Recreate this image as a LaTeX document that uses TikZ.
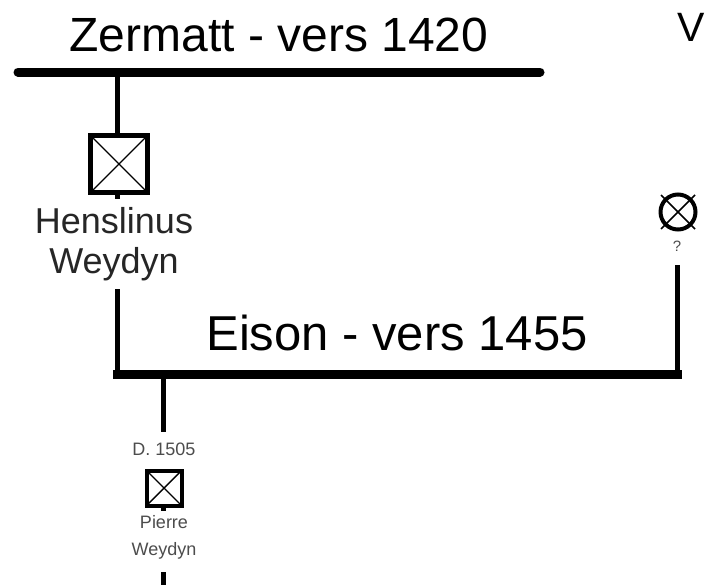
\documentclass[tikz,border=0pt]{standalone}
\usepackage{fontspec}
\setmainfont{Liberation Sans}
\usetikzlibrary{positioning}

\begin{document}
\begin{tikzpicture}[
  x=1pt, y=-1pt,
  bar/.style    = {line width=9pt, line cap=round},
  link/.style   = {line width=5pt},
  place/.style  = {inner sep=0pt, font=\fontsize{48}{50}\selectfont},
  person/.style = {inner sep=0pt, align=center, font=\fontsize{36}{40}\selectfont, text=black!85},
  small/.style  = {inner sep=0pt, align=center, font=\fontsize{18}{27}\selectfont, text=black!70},
  man/.style    = {draw, rectangle, inner sep=0pt, minimum size=#1,
                   path picture={\draw[line width=1.4pt]
                     (path picture bounding box.north west) -- (path picture bounding box.south east)
                     (path picture bounding box.north east) -- (path picture bounding box.south west);}},
]
  \useasboundingbox (0,0) rectangle (706,584);

  % First generation
  \coordinate (zl) at (18,72);
  \coordinate (zr) at (540,72);
  \node[place] (zermatt) at (279,35) {Zermatt - vers 1420};
  \node[place, anchor=west, font=\fontsize{41}{44}\selectfont] (vnext) at (677,27) {V};
  \draw[bar] (zl) -- (zr);

  \node[man=57pt, line width=5pt] (hbox) at (119,164) {};
  \node[person] (hname) at (114,244) {Henslinus\\Weydyn};
  \draw[link] (hbox.north -| 117,0) |- (zl);
  \draw[link] (hbox.south -| 117,0) -- ++(0,4);

  % Second generation
  \coordinate (el) at (113,374);
  \coordinate (er) at (682,374);
  \node[place, font=\fontsize{49}{52}\selectfont] (eison) at (397,333) {Eison - vers 1455};
  \coordinate (hdown) at (117,289);
  \draw[link] (hdown) -- (hdown |- el);
  \draw[bar, line cap=butt] (el) -- (er);

  \node[draw, circle, line width=4pt, inner sep=0pt, minimum size=35pt] (unk) at (678,212) {};
  \draw[line width=1.6pt] (unk.center) ++(-17,-17) -- ++(34,34);
  \draw[line width=1.6pt] (unk.center) ++(17,-17) -- ++(-34,34);
  \node[small, font=\fontsize{15}{16}\selectfont] (unkq) at (677,246) {?};
  \coordinate (udown) at (677,265);
  \draw[link] (udown) -- (udown |- er);

  % Third generation
  \coordinate (pup) at (163,374);
  \node[small] (pdate) at (164,449) {D. 1505};
  \node[man=35pt, line width=4pt] (pbox) at (164,488) {};
  \node[small] (pname) at (164,537) {Pierre\\Weydyn};
  \draw[link] (pup) -- (pup |- 0,432);
  \draw[link] (pbox.south -| 163,0) -- ++(0,3);
  \coordinate (pdown) at (163,572);
  \draw[link] (pdown) -- ++(0,14);
\end{tikzpicture}
\end{document}
